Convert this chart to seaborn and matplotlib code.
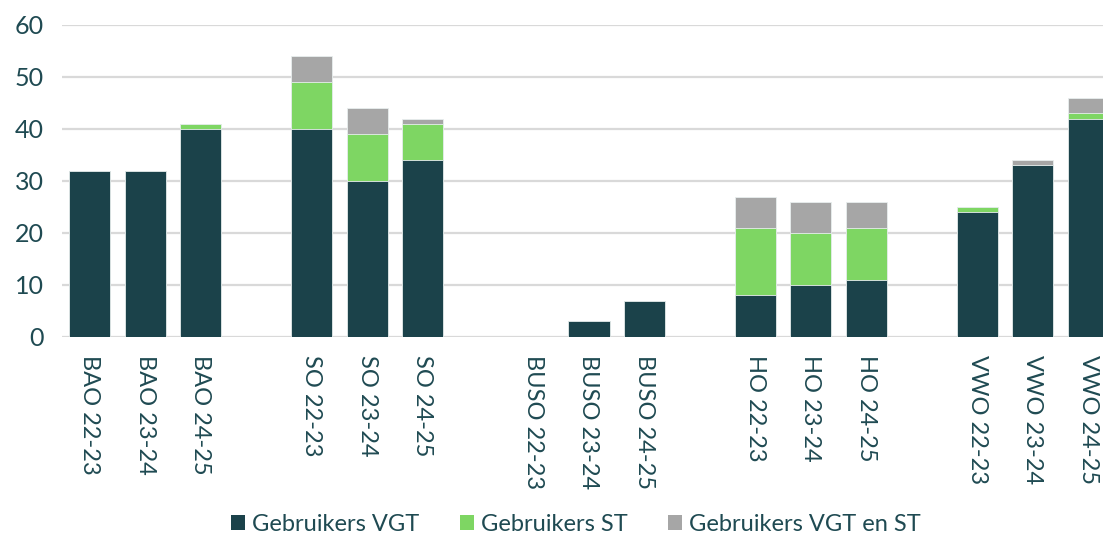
import matplotlib
matplotlib.use("Agg")
import matplotlib.pyplot as plt
import seaborn as sns
import pandas as pd
import numpy as np
from matplotlib.patches import Patch

categories = ["BAO 22-23", "BAO 23-24", "BAO 24-25", "",
              "SO 22-23", "SO 23-24", "SO 24-25", " ",
              "BUSO 22-23", "BUSO 23-24", "BUSO 24-25", "  ",
              "HO 22-23", "HO 23-24", "HO 24-25", "   ",
              "VWO 22-23", "VWO 23-24", "VWO 24-25"]
vgt      = [32, 32, 40, 0, 40, 30, 34, 0, 0, 3, 7, 0, 8, 10, 11, 0, 24, 33, 42]
st       = [0, 0, 1, 0, 9, 9, 7, 0, 0, 0, 0, 0, 13, 10, 10, 0, 1, 0, 1]
vgt_en_st = [0, 0, 0, 0, 5, 5, 1, 0, 0, 0, 0, 0, 6, 6, 5, 0, 0, 1, 3]
series_names = ["Gebruikers VGT", "Gebruikers ST", "Gebruikers VGT en ST"]
colors = ["#1b424a", "#7ed663", "#a6a6a6"]
text_color = "#1f4a52"

sns.set_theme(style="white")
plt.rcParams["font.family"] = ["Lato", "DejaVu Sans"]

df = pd.DataFrame({"cat": categories, "vgt": vgt, "st": st, "both": vgt_en_st})
df["c1"] = df["vgt"]
df["c2"] = df["vgt"] + df["st"]
df["c3"] = df["c2"] + df["both"]

W, H = 1103, 538
fig = plt.figure(figsize=(W / 100, H / 100), dpi=100)
ax_left, ax_right, ax_top, ax_bottom = 62, 1116, 25, 337
ax = fig.add_axes([ax_left / W, 1 - ax_bottom / H, (ax_right - ax_left) / W, (ax_bottom - ax_top) / H])

for col, c in [("c3", colors[2]), ("c2", colors[1]), ("c1", colors[0])]:
    sns.barplot(data=df, x="cat", y=col, order=categories, color=c, saturation=1,
                width=0.74, ax=ax, edgecolor="#e8eeee", linewidth=0.6, errorbar=None)

ax.set_ylim(0, 60)
ax.set_xlim(-0.5, len(categories) - 0.5)
ax.set_yticks(range(0, 61, 10))
ax.yaxis.grid(True, color="#d9d9d9", linewidth=1.6)
ax.set_axisbelow(True)
for s in ax.spines.values():
    s.set_visible(False)
ax.set_xlabel("")
ax.set_ylabel("")
ax.tick_params(axis="y", length=0, pad=13, labelsize=18, labelcolor=text_color)
ax.tick_params(axis="x", length=0, pad=13, labelsize=17, labelcolor=text_color)
ax.set_xticks(range(len(categories)))
ax.set_xticklabels(categories, rotation=270, va="top", ha="center")

handles = [Patch(facecolor=c, edgecolor="none") for c in colors]
leg = fig.legend(handles, series_names, loc="lower center", bbox_to_anchor=(0.522, -0.034),
                 ncol=3, frameon=False, fontsize=17, handlelength=0.6, handleheight=0.6,
                 columnspacing=1.7, handletextpad=0.3)
for t in leg.get_texts():
    t.set_color(text_color)

fig.savefig("out.png", dpi=100)
